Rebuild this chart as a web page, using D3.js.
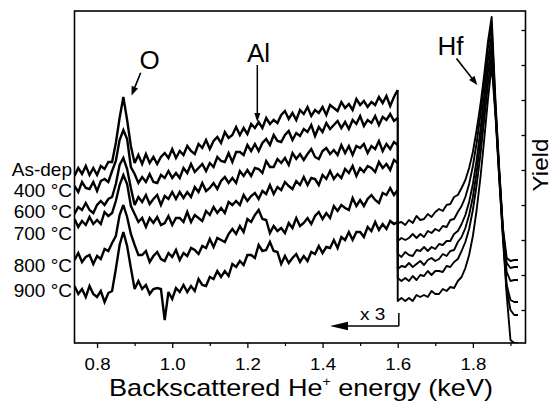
<!DOCTYPE html>
<html><head><meta charset="utf-8">
<script src="https://cdn.jsdelivr.net/npm/d3@7"></script>
<style>
body{margin:0;background:#fff}
svg{display:block}
text{font-family:"Liberation Sans",Arial,Helvetica,sans-serif;fill:#000}
</style>
</head><body>
<svg id="c" width="554" height="411"></svg>
<script>
// ---------- DATA ----------
// energy channels (keV): below 1.6 keV the spectra are multiplied by 3
const energyLow = [0.74,0.75,0.76,0.77,0.78,0.79,0.80,0.81,0.82,0.83,0.84,0.85,0.86,0.87,0.88,0.89,0.90,0.91,0.92,0.93,0.94,0.95,0.96,0.97,0.98,0.99,1.00,1.01,1.02,1.03,1.04,1.05,1.06,1.07,1.08,1.09,1.10,1.11,1.12,1.13,1.14,1.15,1.16,1.17,1.18,1.19,1.20,1.21,1.22,1.23,1.24,1.25,1.26,1.27,1.28,1.29,1.30,1.31,1.32,1.33,1.34,1.35,1.36,1.37,1.38,1.39,1.40,1.41,1.42,1.43,1.44,1.45,1.46,1.47,1.48,1.49,1.50,1.51,1.52,1.53,1.54,1.55,1.56,1.57,1.58,1.59,1.60];
const energyHigh = [1.60,1.61,1.62,1.63,1.64,1.65,1.66,1.67,1.68,1.69,1.70,1.71,1.72,1.73,1.74,1.75,1.76,1.77,1.78,1.79,1.80,1.81,1.82,1.83,1.84,1.85,1.86,1.87,1.88,1.89,1.90,1.91,1.92];

const seriesNames = ["As-dep","400 °C","600 °C","700 °C","800 °C","900 °C"];

const asdepLow = [169,177,171,179,170,177,170,179,176,183,183,202,227,248,225,199,182,190,181,191,182,188,181,188,192,187,196,187,194,190,199,194,191,201,197,205,196,204,208,202,213,207,210,218,210,217,211,221,217,223,217,227,221,225,222,230,234,226,232,225,235,231,238,229,235,232,238,230,240,237,234,243,237,241,235,246,240,244,238,243,240,248,242,249,239,248,255];
const asdepHigh = [122,123,120,125,122,129,125,126,131,128,133,136,134,140,141,148,150,157,165,177,193,215,240,270,303,328,245,177,117,87,84,85,85];

const t400Low = [159,153,163,157,156,163,154,164,166,163,174,184,205,215,206,178,171,162,168,163,171,163,162,170,167,174,167,172,167,177,172,181,173,177,181,174,182,178,188,184,183,192,183,193,193,190,200,194,201,194,202,206,200,210,204,203,210,214,205,212,209,216,213,220,209,218,213,222,216,220,224,217,223,216,225,221,229,219,225,222,229,220,228,225,231,224,227];
const t400High = [104,107,105,107,111,107,111,108,114,112,116,114,119,118,125,126,133,139,148,161,179,202,230,263,297,320,240,175,115,82,77,78,78];

const t600Low = [131,138,135,142,135,132,140,144,140,146,148,161,180,187,176,157,140,148,143,150,141,146,150,140,149,146,153,146,153,147,153,148,158,153,162,154,157,162,156,164,168,162,167,162,174,169,175,169,177,176,172,184,178,178,186,182,187,180,192,186,191,185,191,196,188,186,194,197,191,195,190,200,192,199,190,199,197,201,192,199,196,204,194,201,196,203,200];
const t600High = [91,88,93,90,89,95,94,98,94,98,96,101,100,104,104,111,114,121,130,143,161,185,215,250,285,310,237,173,113,73,64,65,65];

const t700Low = [126,118,124,120,128,121,125,121,133,129,132,144,160,170,161,139,131,123,127,118,127,122,128,120,122,129,120,127,127,123,133,123,130,127,124,134,130,138,132,137,132,143,140,144,140,150,144,149,152,146,154,151,160,151,158,155,163,159,156,164,160,168,160,167,166,160,170,166,174,166,171,167,176,172,179,169,177,173,179,177,173,183,177,181,175,185,182];
const t700High = [76,79,78,82,78,81,84,80,85,87,84,86,91,89,94,95,103,108,117,130,148,173,203,237,273,300,235,171,111,60,45,43,43];

const t800Low = [85,92,83,88,90,81,89,86,96,94,102,109,130,140,128,111,100,90,90,94,83,89,93,86,84,92,88,95,85,92,89,97,95,91,99,97,106,98,107,105,103,111,116,111,119,113,126,123,130,135,126,125,112,119,114,117,112,122,117,127,119,122,127,121,129,133,126,132,127,139,134,140,137,135,147,139,145,139,146,150,145,142,152,150,157,150,155];
const t800High = [67,64,67,64,69,65,70,69,74,70,74,74,73,79,78,83,86,94,103,116,135,160,190,225,260,290,233,169,109,55,35,30,30];

const t900Low = [59,51,56,48,59,51,48,54,43,52,54,76,100,113,99,77,56,64,56,60,51,56,57,56,25,53,46,57,53,60,53,59,54,66,60,59,68,66,74,68,74,69,81,78,84,80,90,90,87,100,94,95,103,94,93,81,89,82,87,91,83,89,84,93,91,99,92,98,97,105,97,108,105,113,105,113,113,108,118,114,123,115,121,116,124,121,123];
const t900High = [44,47,44,47,44,50,48,50,48,54,51,51,56,54,58,57,64,68,77,90,109,135,167,205,245,280,230,167,107,50,5,2,2];

const lowSets = [asdepLow,t400Low,t600Low,t700Low,t800Low,t900Low];
const highSets = [asdepHigh,t400High,t600High,t700High,t800High,t900High];
const labelYield = [169,148,127,105,73,48];   // where each sample name sits (yield units)

const xMajorTicks = [0.8,1.0,1.2,1.4,1.6,1.8];
const xMinorTicks = [0.9,1.1,1.3,1.5,1.7,1.9];
const yTicks = [35,70,105,140,175,210,245,280,315];

// ---------- CHART ----------
const m = {left:74.5, right:525.5, top:11, bottom:343};
const x = d3.scaleLinear().domain([0.74,1.94]).range([m.left,m.right]);
const y = d3.scaleLinear().domain([2,334]).range([m.bottom,m.top]);
const svg = d3.select("#c");

svg.append("defs").append("clipPath").attr("id","clip")
  .append("rect").attr("x",m.left).attr("y",m.top-2).attr("width",m.right-m.left).attr("height",m.bottom-m.top+2);

const line = d3.line().x(d=>x(d[0])).y(d=>y(d[1]));
const gCurves = svg.append("g").attr("clip-path","url(#clip)");
seriesNames.forEach((name,k)=>{
  const low = energyLow.map((e,i)=>[e,lowSets[k][i]]);
  const high = energyHigh.map((e,i)=>[e,highSets[k][i]]);
  gCurves.append("path").attr("d",line(low))
    .attr("fill","none").attr("stroke","#000").attr("stroke-width",2.4)
    .attr("stroke-linejoin","miter").attr("stroke-miterlimit",3);
  gCurves.append("path").attr("d",line([low[low.length-1]].concat(high)))
    .attr("fill","none").attr("stroke","#000").attr("stroke-width",1.9)
    .attr("stroke-linejoin","round");
});

// axes
const gx = svg.append("g").attr("transform",`translate(0,${m.bottom})`)
  .call(d3.axisBottom(x).tickValues(xMajorTicks).tickFormat(d3.format(".1f")).tickSize(5).tickPadding(10));
gx.select(".domain").remove();
gx.selectAll("line").attr("stroke","#000").attr("stroke-width",1.3);
gx.selectAll("text").attr("font-size",17).attr("font-family","'Liberation Sans',Arial,sans-serif")
  .attr("transform","scale(1.1,1)");
const gxm = svg.append("g").attr("transform",`translate(0,${m.bottom})`)
  .call(d3.axisBottom(x).tickValues(xMinorTicks).tickFormat("").tickSize(3));
gxm.select(".domain").remove();
gxm.selectAll("line").attr("stroke","#000").attr("stroke-width",1.2);

const gy = svg.append("g").attr("transform",`translate(${m.right},0)`)
  .call(d3.axisLeft(y).tickValues(yTicks).tickFormat("").tickSize(4));
gy.select(".domain").remove();
gy.selectAll("line").attr("stroke","#000").attr("stroke-width",1.3);

// frame
svg.append("rect").attr("x",m.left).attr("y",m.top).attr("width",m.right-m.left).attr("height",m.bottom-m.top)
  .attr("fill","none").attr("stroke","#000").attr("stroke-width",1.6);

// sample labels
seriesNames.forEach((name,k)=>{
  svg.append("text").attr("x",m.left-2.5).attr("y",y(labelYield[k]))
    .attr("text-anchor","end").attr("font-size",19).text(name);
});

// axis titles
const tg = svg.append("g").attr("transform","translate(301,396)");
const tt = tg.append("text").attr("text-anchor","middle").attr("font-size",23);
tt.append("tspan").text("Backscattered He");
tt.append("tspan").attr("font-size",12).attr("dy",-10).text("+");
tt.append("tspan").attr("dy",10).text(" energy (keV)");
const bw = tt.node().getBBox().width;
tt.attr("transform",`scale(${384/bw},1)`);

svg.append("g").attr("transform","translate(548,165) rotate(-90) scale(1.1,1)")
  .append("text").attr("text-anchor","middle").attr("font-size",22).text("Yield");

// element annotations
const elemLabels = [{t:"O",e:0.9396,v:276},{t:"Al",e:1.2296,v:283},{t:"Hf",e:1.7405,v:290}];
elemLabels.forEach(d=>svg.append("text").attr("x",x(d.e)).attr("y",y(d.v))
  .attr("text-anchor","middle").attr("font-size",26).text(d.t));

function arrow(e0,v0,e1,v1,L,w,sw){
  const x0=x(e0),y0=y(v0),x1=x(e1),y1=y(v1);
  const dx=x1-x0,dy=y1-y0,len=Math.hypot(dx,dy),ux=dx/len,uy=dy/len;
  const bx=x1-ux*L,by=y1-uy*L;
  svg.append("line").attr("x1",x0).attr("y1",y0).attr("x2",bx).attr("y2",by)
    .attr("stroke","#000").attr("stroke-width",sw);
  svg.append("path").attr("d",`M${x1},${y1}L${bx-uy*w},${by+ux*w}L${bx+uy*w},${by-ux*w}Z`).attr("fill","#000");
}
arrow(0.9161,272.3,0.8917,249.5,9,3.5,1.6);
arrow(1.2264,280,1.2264,223,9,3,1.5);
arrow(1.7564,286.5,1.8118,260,9,3.5,1.6);

// x3 bracket
svg.append("line").attr("x1",x(1.603)).attr("x2",x(1.603)).attr("y1",y(32)).attr("y2",y(19))
  .attr("stroke","#000").attr("stroke-width",1.5);
arrow(1.603,19,1.4198,19,18,4.2,1.5);
svg.append("g").attr("transform",`translate(${x(1.4997)},${y(25)}) scale(1.12,1)`)
  .append("text").attr("font-size",17).text("x 3");
</script>
</body></html>
